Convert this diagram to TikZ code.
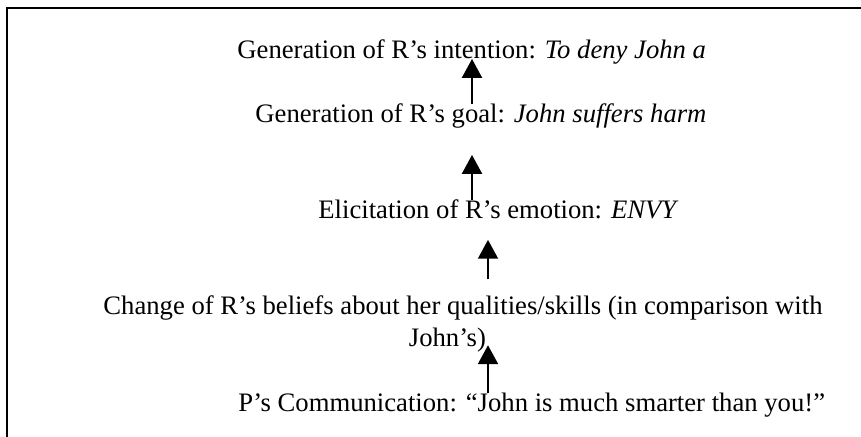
\documentclass[tikz,border=0pt]{standalone}
\usepackage{fontspec}
\setmainfont{Liberation Serif}
\usetikzlibrary{arrows.meta}

\begin{document}
\begin{tikzpicture}[x=0.45pt, y=-0.45pt, >={Triangle[width=9pt,length=8.5pt]},
        lbl/.style={inner sep=0pt, font=\fontsize{12}{14.3}\selectfont},
        flow/.style={->, line width=0.9pt}]
        \def\colA{472}
        \def\colB{488}

        \useasboundingbox (0,0) rectangle (861,437);
        \draw[line width=0.85pt] (7,437)--(7,8)--(861,8);

        \node[lbl, anchor=base west] (intent) at (237,59) {Generation of R’s intention: \textit{To deny John a}};
        \node[lbl, anchor=base west] (goal) at (255,123) {Generation of R’s goal: \textit{John suffers harm}};
        \node[lbl, anchor=base west] (emotion) at (318,219) {Elicitation of R’s emotion: \textit{ENVY}};
        % base is the last line here
        \node[lbl, anchor=base, align=center] (beliefs) at (463,346.7) {Change of R’s beliefs about her qualities/skills (in comparison with\\ John’s)\hspace*{14pt}};
        \node[lbl, anchor=base west] (comm) at (238,411.7) {P’s Communication: “John is much smarter than you!”};

        \coordinate (cA) at (\colA,0);
        \coordinate (cB) at (\colB,0);

        \draw[flow] (goal.north -| cA)--(intent.base -| cA);
        \draw[flow, shorten >=11.6pt] (emotion.north -| cA)--(goal.south -| cA);
        \draw[flow, shorten <=7.3pt, shorten >=9pt] (beliefs.north -| cB)--(emotion.south -| cB);
        \draw[flow, shorten >=-3.4pt] (comm.north -| cB)--(beliefs.south -| cB);

    \end{tikzpicture}
\end{document}
